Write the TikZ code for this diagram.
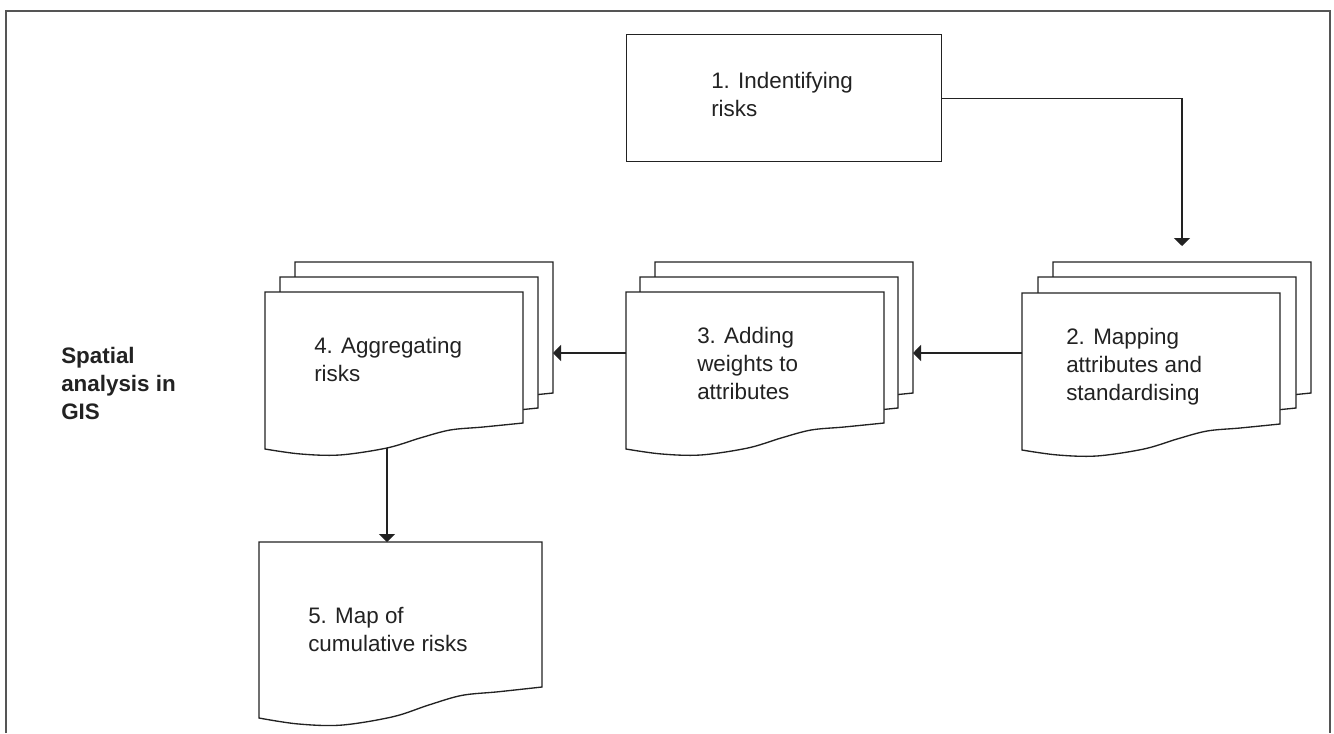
\documentclass[tikz,border=0pt]{standalone}
\usepackage{fontspec}
\setmainfont{Liberation Sans}
\usetikzlibrary{arrows.meta}
\definecolor{ink}{HTML}{222222}
\definecolor{framegray}{HTML}{555555}
\tikzset{
  docline/.style={draw=ink, line width=1pt, line join=miter},
  conn/.style={draw=ink, line width=1pt, -{Triangle[length=6pt,width=12pt]}},
  lbl/.style={anchor=base west, inner sep=0pt, align=left, text=ink,
    font=\fontsize{16.8pt}{21pt}\selectfont},
}
% L T w hr hl
\newcommand\mydoc[5]{%
  \pgfmathsetmacro\dk{#5-#4}%
  \draw[docline, fill=white] (#1,#2) -- ({#1+#3},#2) -- ({#1+#3},{#2+#4})
    -- plot[smooth, tension=0.55] coordinates {
      ({#1+#3},{#2+#4})
      ({#1+0.845*#3},{#2+#5-0.846*\dk})
      ({#1+0.717*#3},{#2+#5-0.73*\dk})
      ({#1+0.60*#3},{#2+#5-0.42*\dk})
      ({#1+0.473*#3},{#2+#5-0.04*\dk})
      ({#1+0.29*#3},{#2+#5+0.23*\dk})
      ({#1+0.136*#3},{#2+#5+0.19*\dk})
      (#1,{#2+#5})} -- cycle;}
\begin{document}
\begin{tikzpicture}[x=0.75pt,y=-0.75pt]
\useasboundingbox (0,0) rectangle (1334,733);
\fill[white] (0,0) rectangle (1334,733);
% outer frame
\draw[draw=framegray, line width=1.6pt] (6,733) -- (6,11) -- (1330,11) -- (1330,733);

% box 1
\node[docline, fill=white, anchor=north west, inner sep=0pt,
      minimum width=236.25pt, minimum height=95.25pt] (b1) at (626,34) {};
\node[lbl] (t1) at (711,116) {1. Indentifying\\risks};

% doc group 2
\mydoc{1053}{262}{258}{131}{157}
\mydoc{1038}{277}{258}{131}{157}
\mydoc{1022}{293}{258}{131}{157}
\coordinate (d2top) at (1182,246);
\coordinate (d2w) at (1022,353);
\node[lbl] (t2) at (1066,400) {2. Mapping\\attributes and\\standardising};

% doc group 3
\mydoc{655}{262}{258}{131}{157}
\mydoc{640}{277}{258}{131}{157}
\mydoc{626}{292}{258}{131}{157}
\coordinate (d3e) at (913,353);
\coordinate (d3w) at (626,353);
\node[lbl] (t3) at (697,399) {3. Adding\\weights to\\attributes};

% doc group 4
\mydoc{295}{262}{258}{131}{157}
\mydoc{280}{277}{258}{131}{157}
\mydoc{265}{292}{258}{131}{157}
\coordinate (d4e) at (553,353);
\coordinate (d4s) at (387,448);
\node[lbl] (t4) at (314,381) {4. Aggregating\\risks};

% doc 5
\mydoc{259}{542}{283}{145}{176}
\coordinate (d5n) at (387,542);
\node[lbl] (t5) at (308,651) {5. Map of\\cumulative risks};

% side label
\node[lbl, font=\fontsize{16.8pt}{21pt}\selectfont\bfseries] (side) at (61,419) {Spatial\\analysis in\\GIS};

% connectors
\draw[conn] (b1.east) -| (d2top);
\draw[conn] (d2w) -- (d3e);
\draw[conn] (d3w) -- (d4e);
\draw[conn] (d4s) -- (d5n);
\end{tikzpicture}
\end{document}
